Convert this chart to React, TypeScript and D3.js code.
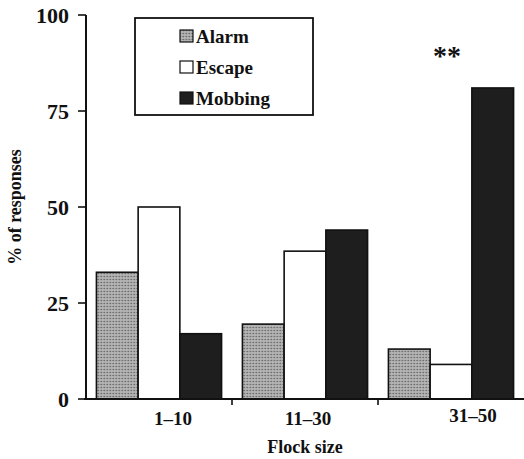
import React from "react";
import * as d3 from "d3";

const categories = ["1–10", "11–30", "31–50"];
const seriesNames = ["Alarm", "Escape", "Mobbing"];
const alarm = [33, 19.5, 13];
const escape = [50, 38.5, 9];
const mobbing = [17, 44, 81];
const yTicks = [0, 25, 50, 75, 100];

const W = 524;
const H = 459;
const FONT = "'Liberation Serif', 'DejaVu Serif', serif";
// label horizontal offsets as typeset in the original figure
const labelShift = [14, 3, 22];
const labelBase = [425, 425, 422];

export default function App() {
  const x0 = d3.scaleBand<string>().domain(categories).range([86, 524]).paddingInner(0).paddingOuter(0);
  const x1 = d3.scaleBand<string>().domain(seriesNames).range([0, x0.bandwidth()]).paddingInner(0).paddingOuter(0.25);
  const y = d3.scaleLinear().domain([0, 100]).range([399, 15]);

  const values: Record<string, number[]> = { Alarm: alarm, Escape: escape, Mobbing: mobbing };
  const fills: Record<string, string> = { Alarm: "url(#stipple)", Escape: "#ffffff", Mobbing: "#1e1e1e" };

  const boundaries = categories.slice(1).map((c) => x0(c)!);

  return (
    <svg width={W} height={H} style={{ position: "absolute", left: 0, top: 0, background: "#fff" }} fontFamily={FONT}>
      <defs>
        <pattern id="stipple" width="3" height="3" patternUnits="userSpaceOnUse">
          <rect width="3" height="3" fill="#a9a9a9" />
          <rect x="0" y="0" width="1" height="1" fill="#6f6f6f" />
          <rect x="1.5" y="1.5" width="1" height="1" fill="#d0d0d0" />
          <rect x="2" y="0" width="1" height="1" fill="#888" />
        </pattern>
      </defs>

      {/* bars */}
      {categories.map((c, i) => (
        <g key={c} transform={`translate(${x0(c)},0)`}>
          {seriesNames.map((s) => {
            const v = values[s][i];
            return (
              <rect
                key={s}
                x={x1(s)}
                y={y(v)}
                width={x1.bandwidth()}
                height={y(0) - y(v)}
                fill={fills[s]}
                stroke="#111"
                strokeWidth={1.6}
              />
            );
          })}
        </g>
      ))}

      {/* y axis */}
      <line x1={86} x2={86} y1={y(100)} y2={y(0)} stroke="#111" strokeWidth={2} />
      {yTicks.map((t) => (
        <g key={t}>
          <line x1={78} x2={86} y1={y(t)} y2={y(t)} stroke="#111" strokeWidth={1.6} />
          <text x={69} y={y(t)} dy="0.35em" textAnchor="end" fontSize={22} fontWeight="bold" fill="#111">
            {t}
          </text>
        </g>
      ))}

      {/* x axis */}
      <line x1={84} x2={524} y1={y(0)} y2={y(0)} stroke="#111" strokeWidth={2} />
      {boundaries.map((b) => (
        <line key={b} x1={b} x2={b} y1={y(0)} y2={y(0) + 6} stroke="#111" strokeWidth={1.6} />
      ))}
      {categories.map((c, i) => (
        <text
          key={c}
          x={x0(c)! + x0.bandwidth() / 2 + labelShift[i]}
          y={labelBase[i]}
          textAnchor="middle"
          fontSize={19}
          fontWeight="bold"
          fill="#111"
        >
          {c}
        </text>
      ))}
      <text x={305} y={453} textAnchor="middle" fontSize={18} fontWeight="bold" fill="#111">
        Flock size
      </text>
      <text transform="translate(21,207) rotate(-90)" textAnchor="middle" fontSize={18} fontWeight="bold" fill="#111">
        % of responses
      </text>

      {/* significance */}
      <text x={447} y={65} textAnchor="middle" fontSize={28} fontWeight="bold" fill="#111">
        **
      </text>

      {/* legend */}
      <rect x={135} y={18} width={178} height={97} fill="#fff" stroke="#111" strokeWidth={1.8} />
      {seriesNames.map((s, i) => {
        const cy = 36 + i * 31;
        return (
          <g key={s}>
            <rect x={180} y={cy - 6} width={13} height={12} fill={fills[s]} stroke="#111" strokeWidth={1.2} />
            <text x={196} y={cy} dy="0.35em" fontSize={19} fontWeight="bold" fill="#111">
              {s}
            </text>
          </g>
        );
      })}
    </svg>
  );
}
